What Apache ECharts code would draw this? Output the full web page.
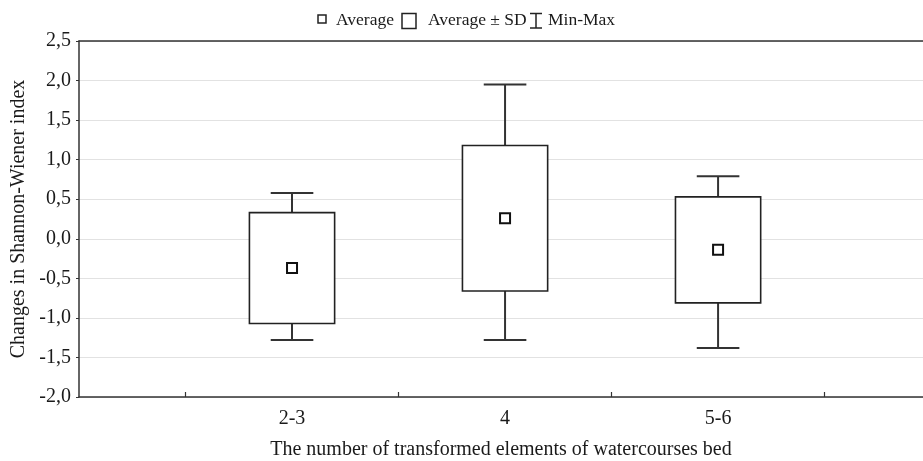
<!DOCTYPE html>
<html>
<head>
<meta charset="utf-8">
<script src="https://cdn.jsdelivr.net/npm/echarts@6/dist/echarts.min.js"></script>
<style>
  html, body { margin: 0; padding: 0; background: #fff; }
  #chart { width: 923px; height: 461px; }
</style>
</head>
<body>
<div id="chart"></div>
<script>
// groups on the x axis
const categories = ['2-3', '4', '5-6'];
// average change per group, its SD and the min / max
const averages = [-0.37, 0.26, -0.14];
const sds = [0.70, 0.92, 0.67];
const mins = [-1.28, -1.28, -1.38];
const maxs = [0.58, 1.95, 0.79];
const yTicks = [-2.0, -1.5, -1.0, -0.5, 0.0, 0.5, 1.0, 1.5, 2.0, 2.5];

const FONT = '"Liberation Serif", "Times New Roman", serif';
const INK = '#1a1a1a';

const boxData = categories.map((c, i) => [i + 1, averages[i], sds[i], mins[i], maxs[i]]);
const meanData = categories.map((c, i) => [i + 1, averages[i]]);

function renderBox(params, api) {
    const x = api.value(0);
    const avg = api.value(1);
    const sd = api.value(2);
    const lo = api.value(3);
    const hi = api.value(4);
    const boxW = api.size([0.4, 0])[0];
    const capW = api.size([0.2, 0])[0];
    const top = api.coord([x, avg + sd]);
    const bot = api.coord([x, avg - sd]);
    const pMax = api.coord([x, hi]);
    const pMin = api.coord([x, lo]);
    const line = { stroke: '#333', lineWidth: 2 };
    return {
        type: 'group',
        children: [
            { type: 'line', shape: { x1: pMax[0], y1: pMax[1], x2: top[0], y2: top[1] }, style: line },
            { type: 'line', shape: { x1: pMax[0] - capW / 2, y1: pMax[1], x2: pMax[0] + capW / 2, y2: pMax[1] }, style: line },
            { type: 'line', shape: { x1: bot[0], y1: bot[1], x2: pMin[0], y2: pMin[1] }, style: line },
            { type: 'line', shape: { x1: pMin[0] - capW / 2, y1: pMin[1], x2: pMin[0] + capW / 2, y2: pMin[1] }, style: line },
            {
                type: 'rect',
                shape: { x: top[0] - boxW / 2, y: top[1], width: boxW, height: bot[1] - top[1] },
                style: { fill: '#fff', stroke: '#222', lineWidth: 1.6 }
            }
        ]
    };
}

const chart = echarts.init(document.getElementById('chart'));

chart.setOption({
    animation: false,
    backgroundColor: '#fff',
    textStyle: { fontFamily: FONT, color: INK },
    grid: { left: 79, right: 0, top: 41, bottom: 64, outerBoundsMode: 'none' },
    xAxis: [{
        type: 'value',
        min: 0,
        max: 3.962,
        name: 'The number of transformed elements of watercourses bed',
        nameLocation: 'middle',
        nameGap: 43,
        nameTextStyle: { fontFamily: FONT, fontSize: 20, color: INK },
        axisLine: { show: true, onZero: false, lineStyle: { color: '#333', width: 1.5 } },
        axisTick: { show: true, inside: true, length: 5, customValues: [0.5, 1.5, 2.5, 3.5], lineStyle: { color: '#333', width: 1.2 } },
        axisLabel: {
            customValues: [1, 2, 3],
            margin: 12,
            fontFamily: FONT, fontSize: 20, color: INK,
            formatter: v => categories[Math.round(v) - 1] || ''
        },
        splitLine: { show: false }
    }, {
        type: 'value',
        position: 'top',
        min: 0,
        max: 3.962,
        axisLine: { show: true, onZero: false, lineStyle: { color: '#333', width: 1.5 } },
        axisTick: { show: false },
        axisLabel: { show: false },
        splitLine: { show: false }
    }],
    yAxis: {
        type: 'value',
        min: yTicks[0],
        max: yTicks[yTicks.length - 1],
        interval: 0.5,
        name: 'Changes in Shannon-Wiener index',
        nameLocation: 'middle',
        nameGap: 49,
        nameTextStyle: { fontFamily: FONT, fontSize: 20, color: INK },
        axisLine: { show: true, onZero: false, lineStyle: { color: '#333', width: 1.5 } },
        axisTick: { show: true, length: 3, lineStyle: { color: '#333' } },
        axisLabel: {
            margin: 8,
            fontFamily: FONT, fontSize: 20, color: INK,
            formatter: v => v.toFixed(1).replace('.', ',')
        },
        splitLine: { show: true, lineStyle: { color: '#e2e2e2', width: 1 } }
    },
    graphic: [
        { type: 'rect', shape: { x: 318, y: 15, width: 8, height: 8 }, style: { fill: '#fff', stroke: '#222', lineWidth: 1.5 } },
        { type: 'text', x: 336, y: 20, style: { text: 'Average', font: '17.5px ' + FONT, fill: INK, verticalAlign: 'middle' } },
        { type: 'rect', shape: { x: 402, y: 13.5, width: 14, height: 15 }, style: { fill: '#fff', stroke: '#222', lineWidth: 1.5 } },
        { type: 'text', x: 428, y: 20, style: { text: 'Average ± SD', font: '17.5px ' + FONT, fill: INK, verticalAlign: 'middle' } },
        { type: 'polyline', shape: { points: [[530, 13.5], [542, 13.5]] }, style: { stroke: '#222', lineWidth: 1.5 } },
        { type: 'polyline', shape: { points: [[536, 13.5], [536, 28]] }, style: { stroke: '#222', lineWidth: 1.5 } },
        { type: 'polyline', shape: { points: [[530, 28], [542, 28]] }, style: { stroke: '#222', lineWidth: 1.5 } },
        { type: 'text', x: 548, y: 20, style: { text: 'Min-Max', font: '17.5px ' + FONT, fill: INK, verticalAlign: 'middle' } }
    ],
    series: [{
        name: 'Average ± SD',
        type: 'custom',
        renderItem: renderBox,
        encode: { x: 0, y: [1, 3, 4] },
        data: boxData,
        z: 2
    }, {
        name: 'Average',
        type: 'scatter',
        symbol: 'rect',
        symbolSize: 10,
        itemStyle: { color: '#fff', borderColor: '#111', borderWidth: 2, opacity: 1 },
        data: meanData,
        z: 3
    }]
});
</script>
</body>
</html>
